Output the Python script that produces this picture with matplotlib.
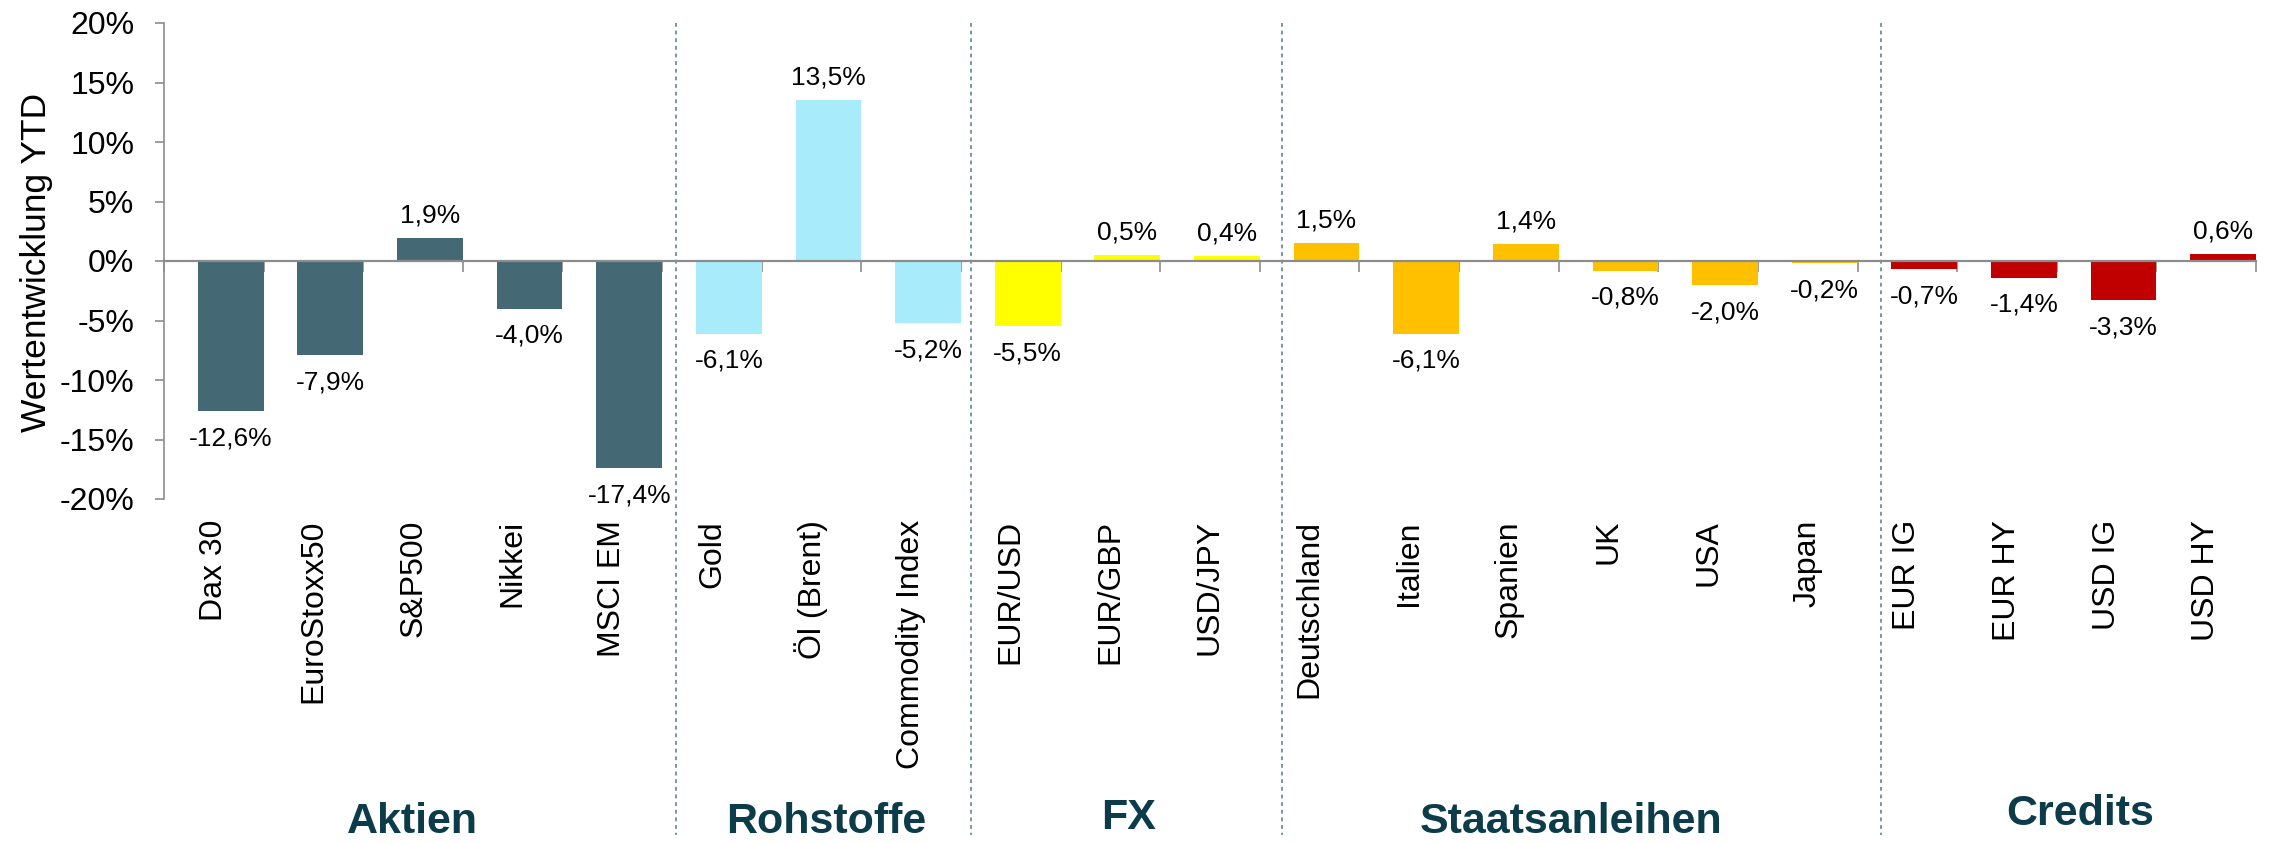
import matplotlib
matplotlib.use("Agg")
import matplotlib.pyplot as plt
from matplotlib.transforms import blended_transform_factory

plt.rcParams['font.family'] = ['Liberation Sans', 'DejaVu Sans']

# --- data ---------------------------------------------------------------
categories = ['Dax 30', 'EuroStoxx50', 'S&P500', 'Nikkei', 'MSCI EM',
              'Gold', 'Öl (Brent)', 'Commodity Index',
              'EUR/USD', 'EUR/GBP', 'USD/JPY',
              'Deutschland', 'Italien', 'Spanien', 'UK', 'USA', 'Japan',
              'EUR IG', 'EUR HY', 'USD IG', 'USD HY']
values = [-12.6, -7.9, 1.9, -4.0, -17.4,
          -6.1, 13.5, -5.2,
          -5.5, 0.5, 0.4,
          1.5, -6.1, 1.4, -0.8, -2.0, -0.2,
          -0.7, -1.4, -3.3, 0.6]
groups = ['Aktien', 'Rohstoffe', 'FX', 'Staatsanleihen', 'Credits']
group_sizes = [5, 3, 3, 6, 4]
group_colors = ['#446974', '#A8EBFB', '#FFFF00', '#FFC000', '#C00000']
y_ticks = [-20, -15, -10, -5, 0, 5, 10, 15, 20]

# layout (not data)
sep_offset = [0.14, 0.10, 0.22, 0.24]          # dotted separators right of group edge
group_label_x = [2.49, 6.65, 9.68, 14.12, 19.24]
group_label_y = [833, 833, 829, 833, 825]       # baseline, px from top
TEAL = '#0C3C4A'
GRAY = '#8C8C8C'

W, H = 2273, 842
fig = plt.figure(figsize=(W / 100, H / 100), dpi=100)
ax = fig.add_axes([164 / W, 1 - 499 / H, (2256 - 164) / W, (499 - 23) / H])

colors = []
for c, n in zip(group_colors, group_sizes):
    colors += [c] * n

x_bar = [i + 0.67 for i in range(len(categories))]
ax.bar(x_bar, values, width=0.66, color=colors, zorder=2)

for x, v in zip(x_bar, values):
    txt = f"{v:.1f}%".replace('.', ',')
    if v >= 0:
        ax.annotate(txt, (x, v), xytext=(0, 7.5), textcoords='offset points',
                    ha='center', va='bottom', fontsize=19)
    else:
        ax.annotate(txt, (x, v), xytext=(0, -11), textcoords='offset points',
                    ha='center', va='top', fontsize=19)

ax.set_xlim(0, len(categories))
ax.set_ylim(-20, 20)
ax.set_yticks(y_ticks)
ax.set_yticklabels([f"{t}%" for t in y_ticks])
ax.set_xticks(range(len(categories) + 1))
ax.set_xticklabels([])

for s in ['top', 'right']:
    ax.spines[s].set_visible(False)
ax.spines['bottom'].set_position(('data', 0))
ax.spines['bottom'].set_color(GRAY)
ax.spines['bottom'].set_linewidth(1.6)
ax.spines['bottom'].set_zorder(3)
ax.spines['left'].set_color(GRAY)
ax.spines['left'].set_linewidth(1.2)
ax.tick_params(axis='y', direction='out', length=6.5, width=1.2,
               color=GRAY, pad=15, labelsize=23)
ax.tick_params(axis='x', direction='out', length=8, width=1.2, color=GRAY)

# category labels
trans = blended_transform_factory(ax.transData, fig.transFigure)
for i, lab in enumerate(categories):
    ax.text(i + 0.5, 1 - 520 / H, lab, rotation=90, ha='center', va='top',
            fontsize=23, transform=trans, clip_on=False)

# group separators and labels
edges = []
acc = 0
for n in group_sizes[:-1]:
    acc += n
    edges.append(acc)
for e, off in zip(edges, sep_offset):
    ax.plot([e + off, e + off], [1 - 23 / H, 1 - 835 / H], transform=trans,
            clip_on=False, color='#4F7A8A', lw=1.1, ls=(0, (2.5, 2.5)))

for g, gx, gy in zip(groups, group_label_x, group_label_y):
    ax.text(gx, 1 - gy / H, g, ha='center', va='baseline', fontsize=31,
            fontweight='bold', color=TEAL, transform=trans, clip_on=False)

fig.text(20 / W, 1 - 262 / H, 'Wertentwicklung YTD', rotation=90,
         ha='left', va='center', fontsize=25.5)

fig.savefig('out.png', dpi=100)
